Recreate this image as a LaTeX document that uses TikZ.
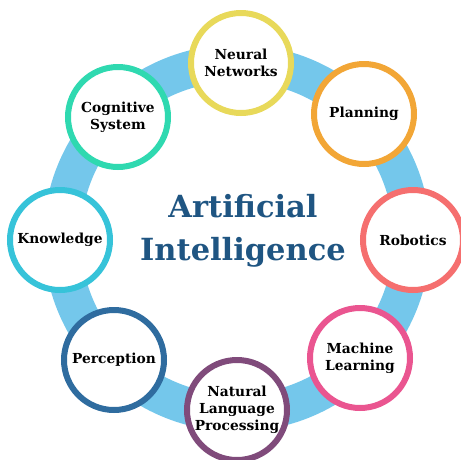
\documentclass[tikz,border=0pt]{standalone}
\usepackage{fontspec}
\setmainfont{DejaVu Serif}
\definecolor{band}{HTML}{74C7EB}
\definecolor{cyel}{HTML}{E8D95A}
\definecolor{corg}{HTML}{F2A636}
\definecolor{cred}{HTML}{F56F6F}
\definecolor{cpink}{HTML}{EA5590}
\definecolor{cpur}{HTML}{804B7B}
\definecolor{cblue}{HTML}{2F6C9F}
\definecolor{ccyan}{HTML}{36C3D9}
\definecolor{cteal}{HTML}{2FD9B0}
\definecolor{ctitle}{HTML}{1F5582}
\begin{document}
\begin{tikzpicture}[x=1pt,y=-1pt,
  topic/.style={circle,draw=#1,line width=6pt,fill=white,minimum size=100pt,inner sep=0pt,
    align=center,font=\bfseries\fontsize{13.8}{17}\selectfont,text=black}]
\useasboundingbox (0,0) rectangle (461,459);
\coordinate (c) at (237,238);
\draw[band,line width=37pt] (c) circle[radius=175];
\node[topic=cyel] (nn) at (241,63) {Neural\\Networks};
\node[topic=corg] (pl) at (364,114) {Planning};
\node[topic=cred] (ro) at (413,240) {Robotics};
\node[topic=cpink] (ml) at (360,358) {Machine\\Learning};
\node[topic=cpur] (nlp) at (237,410) {Natural\\Language\\Processing};
\node[topic=cblue] (pe) at (114,360) {Perception};
\node[topic=ccyan] (kn) at (60,240) {Knowledge};
\node[topic=cteal] (cs) at (118,117) {Cognitive\\System};
\node[text=ctitle,font=\bfseries\fontsize{30.5}{43}\selectfont,align=center] (t) at (243,231) {Artificial\\Intelligence};
\end{tikzpicture}
\end{document}
